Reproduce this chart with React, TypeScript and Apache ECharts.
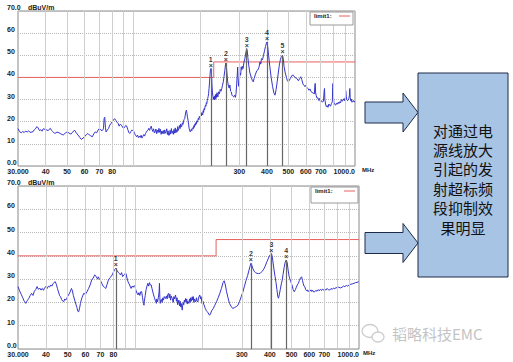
import React, { useEffect, useRef } from "react";
import * as echarts from "echarts";

// ---------- data ----------
// Top chart trace: [MHz, dBuV/m]
const topTrace: [number, number][] = [
  [30, 16.9], [30.5, 15.5], [31, 15.0], [31.5, 15.6], [32, 15.1], [32.5, 15.8], [33, 15.3], [33.5, 15.9], [34, 15.2], [35, 15.4],
  [35.5, 16.3], [36, 16.8], [36.5, 17.8], [37, 17.2], [37.5, 16.0], [38, 16.4], [38.5, 15.7], [39, 16.8], [40, 16.5], [41, 16.0],
  [42, 17.0], [42.5, 16.1], [43, 15.6], [44, 14.7], [45, 15.3], [46, 15.0], [47, 14.4], [48, 14.0], [49, 14.8], [50, 15.4],
  [51, 14.9], [52, 14.4], [53, 15.3], [54, 16.2], [55, 15.0], [56, 14.0], [57, 13.0], [58, 12.0], [59, 12.6], [60, 13.2],
  [61, 14.1], [62, 14.7], [63, 14.0], [64, 13.6], [65, 13.2], [66, 14.5], [67, 15.4], [68, 15.0], [69, 16.2], [70, 17.0],
  [71, 16.3], [72, 15.9], [73, 16.8], [73.5, 21.5], [74, 22.0], [74.5, 17.5], [75, 15.4], [76, 16.3], [77, 17.0], [78, 18.5],
  [79, 19.2], [80, 20.0], [81, 20.8], [82, 21.4], [83, 20.6], [84, 19.8], [85, 19.2], [86, 18.0], [87, 18.9], [88, 18.4],
  [89, 17.6], [90, 16.9], [91, 17.5], [92, 18.3], [93, 18.0], [94, 16.5], [95, 15.2], [96, 14.7], [97, 15.5], [98, 16.2],
  [99, 16.0], [100, 15.7], [101, 14.6], [102, 13.8], [103, 13.2], [104, 14.0], [105, 12.8], [106, 13.5], [107, 12.9], [108, 13.9],
  [109, 12.6], [110, 13.4], [111, 14.2], [112, 13.5], [113, 14.6], [114, 15.3], [115, 15.9], [116, 16.2], [117, 17.0], [118, 16.1],
  [119, 17.3], [120, 18.0], [121, 16.5], [122, 15.6], [123, 16.8], [124, 14.9], [125, 15.4], [126, 16.7], [127, 14.6], [128, 16.2],
  [129, 15.1], [130, 17.0], [131, 15.2], [132, 16.6], [133, 14.3], [134, 15.8], [135, 14.7], [136, 16.0], [137, 14.5], [138, 16.3],
  [139, 14.8], [140, 15.4], [141, 16.8], [142, 14.2], [143, 15.9], [144, 13.8], [145, 14.0], [146, 16.1], [147, 14.4], [148, 16.9],
  [149, 15.0], [150, 15.7], [151, 14.3], [152, 16.5], [153, 14.8], [154, 17.2], [155, 15.0], [156, 16.4], [157, 15.3], [158, 17.8],
  [159, 16.0], [160, 17.0], [161, 18.3], [162, 16.9], [163, 19.0], [164, 17.6], [165, 18.0], [166, 19.5], [167, 18.8], [168, 20.3],
  [169, 21.0], [170, 21.4], [171, 23.0], [172, 24.5], [173, 25.2], [174, 23.8], [175, 22.0], [176, 20.7], [177, 18.9], [178, 17.0],
  [179, 16.2], [180, 15.4], [181, 15.8], [182, 16.5], [183, 15.9], [184, 17.2], [185, 17.0], [186, 16.8], [187, 18.2], [188, 17.5],
  [189, 19.0], [190, 18.4], [191, 19.6], [192, 18.9], [193, 20.4], [194, 19.8], [195, 20.7], [196, 21.6], [197, 20.9], [198, 22.4],
  [199, 21.7], [200, 22.2], [201, 23.5], [202, 22.6], [203, 24.1], [204, 23.4], [205, 23.0], [206, 25.0], [207, 24.2], [208, 25.9],
  [209, 25.3], [210, 26.7], [211, 27.5], [212, 27.0], [213, 28.6], [214, 28.2], [215, 29.7], [216, 30.5], [217, 31.4], [218, 32.6],
  [219, 35.0], [220, 37.5], [221, 40.5], [222, 43.0], [223, 44.0], [224, 43.2], [225, 40.0], [226, 35.7], [227, 33.0], [228, 31.5],
  [229, 30.2], [230, 31.2], [231, 29.8], [232, 31.6], [233, 30.0], [234, 32.2], [235, 30.4], [236, 32.5], [237, 31.0], [238, 33.1],
  [240, 31.2], [242, 33.5], [244, 32.6], [246, 34.6], [248, 33.8], [250, 35.0], [252, 36.5], [254, 38.0], [256, 40.5], [258, 43.0],
  [260, 46.0], [261, 46.5], [262, 45.3], [264, 41.5], [266, 38.0], [268, 36.0], [270, 35.2], [272, 36.6], [274, 33.8], [276, 33.5],
  [278, 32.0], [280, 31.6], [283, 31.2], [286, 32.0], [288, 31.0], [290, 32.7], [292, 37.0], [294, 42.0], [295, 44.7], [296, 40.0],
  [298, 36.0], [300, 38.7], [302, 42.0], [304, 41.0], [305, 42.5], [306, 44.8], [308, 43.5], [310, 45.0], [312, 44.0], [315, 47.0],
  [318, 48.6], [321, 51.0], [324, 53.0], [326, 52.0], [328, 49.0], [331, 45.5], [335, 42.0], [340, 40.0], [344, 38.5], [347, 38.0],
  [350, 39.5], [355, 41.5], [360, 43.0], [364, 43.4], [368, 44.5], [372, 47.0], [375, 46.0], [378, 48.5], [382, 48.0], [386, 50.0],
  [390, 52.0], [394, 54.0], [398, 55.5], [400, 56.0], [403, 54.0], [407, 50.0], [412, 45.0], [418, 40.0], [424, 36.0], [430, 33.0],
  [435, 32.0], [440, 34.5], [445, 38.0], [450, 42.0], [455, 45.5], [460, 48.0], [465, 49.5], [470, 50.0], [474, 48.5], [478, 45.0],
  [484, 42.0], [490, 40.0], [495, 38.5], [500, 38.0], [510, 39.5], [520, 41.0], [526, 41.0], [535, 40.0], [545, 39.6], [555, 38.5],
  [562, 39.5], [569, 40.3], [575, 39.0], [582, 37.0], [588, 36.5], [594, 35.8], [600, 36.5], [606, 35.5], [613, 35.0], [620, 34.2],
  [626, 34.8], [633, 33.6], [640, 33.2], [648, 33.0], [655, 32.5], [659, 36.5], [661, 37.3], [664, 33.0], [668, 31.8], [674, 30.6],
  [680, 30.8], [686, 29.6], [692, 30.5], [698, 29.0], [705, 29.5], [712, 28.8], [720, 29.3], [725, 33.5], [728, 35.0], [731, 30.0],
  [736, 28.0], [742, 26.8], [748, 27.3], [755, 26.5], [762, 28.0], [768, 27.5], [775, 27.0], [782, 28.2], [790, 29.0], [793, 35.5],
  [795, 37.3], [798, 32.0], [803, 28.5], [810, 27.8], [818, 27.5], [825, 28.4], [832, 27.9], [840, 28.8], [846, 28.2], [853, 29.0],
  [860, 28.5], [868, 30.0], [876, 29.2], [884, 29.8], [892, 30.4], [898, 29.5], [905, 31.0], [908, 34.0], [910, 34.3], [913, 31.5],
  [918, 30.0], [925, 29.5], [932, 29.8], [938, 30.5], [944, 32.0], [946, 34.5], [948, 35.0], [951, 31.0], [956, 29.5], [962, 30.2],
  [968, 28.8], [975, 29.0], [982, 29.6], [990, 28.9], [1000, 29.2],
];

// Bottom chart trace: [MHz, dBuV/m]
const bottomTrace: [number, number][] = [
  [30, 26.8], [30.5, 25.0], [31, 23.5], [31.5, 22.0], [32, 20.5], [32.5, 19.6], [33, 20.8], [33.5, 21.7], [34, 22.9], [34.5, 23.9],
  [35, 23.0], [35.5, 24.8], [36, 25.5], [36.5, 26.8], [37, 25.6], [37.5, 26.2], [38, 25.3], [38.5, 26.0], [39, 25.2], [39.5, 26.4],
  [40, 26.8], [40.5, 26.0], [41, 27.0], [41.5, 26.6], [42, 27.5], [42.5, 27.0], [43, 28.0], [43.5, 28.6], [44, 28.9], [44.5, 27.8],
  [45, 26.0], [45.5, 24.5], [46, 23.0], [46.5, 22.4], [47, 21.2], [47.5, 20.6], [48, 20.3], [48.5, 21.5], [49, 21.0], [49.5, 21.7],
  [50, 22.6], [51, 24.0], [52, 26.0], [52.5, 25.0], [53, 23.0], [54, 20.3], [54.5, 19.0], [55, 17.8], [55.5, 16.2], [56, 16.0],
  [56.5, 17.5], [57, 19.5], [57.5, 21.0], [58, 22.2], [59, 23.9], [60, 23.5], [61, 24.6], [62, 26.0], [63, 27.5], [64, 29.6],
  [65, 30.5], [66, 31.8], [67, 31.2], [68, 30.0], [68.5, 31.0], [69, 30.4], [70, 29.5], [71, 28.2], [72, 27.0], [73, 26.5],
  [74, 26.0], [75, 27.8], [76, 29.6], [77, 30.5], [78, 31.0], [79, 31.8], [80, 33.0], [81, 34.0], [82, 34.7], [83, 33.8],
  [84, 33.0], [85, 32.5], [86, 31.8], [87, 32.8], [88, 31.1], [89, 31.8], [90, 32.2], [91, 32.5], [92, 30.5], [93, 28.9],
  [94, 28.0], [95, 27.0], [96, 26.0], [97, 27.0], [98, 26.5], [99, 27.2], [100, 26.8], [101, 25.0], [102, 24.0], [103, 23.2],
  [104, 24.2], [105, 23.0], [106, 24.6], [107, 24.6], [108, 22.0], [109, 19.5], [109.6, 18.8], [110, 20.5], [111, 23.0], [112, 25.5],
  [113, 27.0], [114, 28.2], [115, 27.0], [116, 28.5], [117, 27.5], [118, 27.5], [119, 26.0], [120, 24.5], [121, 23.2], [122, 22.0],
  [123, 21.0], [124, 20.0], [124.5, 19.6], [125, 21.5], [126, 20.2], [127, 22.0], [128, 24.5], [128.5, 28.2], [129, 22.0], [129.5, 19.6],
  [130, 20.5], [131, 21.3], [132, 20.0], [133, 22.0], [134, 21.0], [135, 22.5], [136.7, 21.7], [138, 22.8], [139, 21.5], [140, 23.5],
  [141.3, 23.9], [142, 22.0], [143, 23.6], [144, 21.0], [145, 22.8], [146.5, 21.7], [148, 20.0], [149, 22.5], [150, 21.5], [151.6, 23.2],
  [153, 20.5], [154, 22.0], [155, 19.0], [156.9, 21.0], [158, 18.5], [159, 20.5], [160, 18.0], [161, 19.5], [162.4, 16.7], [163, 18.5],
  [164, 20.0], [165, 19.0], [166, 21.0], [167, 20.2], [168, 21.7], [169, 20.0], [170, 21.5], [171, 19.3], [172, 20.5], [173.9, 19.6],
  [175, 21.5], [176, 20.0], [177, 22.0], [178, 20.5], [180, 22.4], [181, 21.0], [182, 22.5], [183, 20.0], [184, 21.5], [186.2, 20.3],
  [188, 22.0], [189, 20.5], [191, 20.3], [192, 22.0], [194.5, 23.2], [196, 21.5], [197, 22.5], [199, 19.6], [201, 20.5], [203, 19.0],
  [205.9, 17.4], [208, 16.5], [210, 16.0], [212, 15.5], [215, 14.5], [217, 15.0], [220, 16.5], [223.5, 17.4], [227, 18.8], [231, 20.3],
  [235, 22.0], [239, 23.9], [243, 26.0], [247, 28.5], [250, 29.3], [253, 27.5], [256, 24.8], [260, 22.0], [264, 19.6], [268, 18.4],
  [273, 17.4], [278, 17.8], [283, 18.2], [288, 18.8], [293, 20.5], [298, 22.5], [303, 24.5], [308, 27.0], [313, 29.5], [318, 31.5],
  [322, 33.5], [326, 35.5], [329, 36.8], [332, 36.0], [336, 34.5], [340, 33.4], [345, 32.8], [350, 32.5], [356, 32.4], [362, 32.5],
  [368, 33.2], [374, 34.0], [380, 35.3], [388, 37.5], [396, 39.5], [402, 40.6], [406, 41.0], [410, 39.5], [414, 36.5], [418, 33.5],
  [422, 31.0], [426, 28.5], [430, 25.5], [434, 22.5], [437, 21.8], [441, 23.5], [445, 25.5], [450, 28.0], [454, 29.6], [458, 32.0],
  [463, 35.0], [468, 37.2], [473, 38.2], [478, 37.0], [483, 33.5], [488, 31.0], [492, 29.8], [496, 28.9], [502, 27.5], [508, 25.5],
  [514, 24.6], [520, 25.5], [525, 26.5], [530, 27.5], [536, 28.2], [542, 29.5], [548, 30.5], [554, 31.0], [559, 29.5], [564, 28.0],
  [568, 27.0], [573, 26.7], [578, 25.5], [583, 25.0], [588, 25.4], [593, 24.6], [598, 25.2], [604, 24.8], [610, 25.4], [615, 24.7],
  [620, 25.3], [627, 24.5], [635, 24.6], [642, 25.2], [650, 24.8], [658, 25.5], [665, 25.0], [672, 25.6], [680, 25.1], [688, 25.8],
  [695, 25.2], [703, 25.7], [712, 25.3], [720, 26.0], [730, 25.4], [740, 25.3], [750, 26.0], [760, 25.6], [770, 26.2], [780, 25.8],
  [790, 26.5], [800, 26.0], [812, 26.6], [824, 26.2], [840, 26.5], [852, 27.0], [865, 26.8], [878, 27.3], [890, 27.0], [905, 27.6],
  [920, 27.8], [935, 28.0], [950, 28.2], [965, 28.5], [980, 28.6], [997, 28.9], [1000, 29.0],
];

// Limit line (step) shared by both charts
const limitFreq = [30, 230, 230, 1000];
const limitLevel = [40, 40, 47, 47];

// Peak markers
const topMarkerFreq = [223, 261, 324, 400, 470];
const topMarkerLevel = [44.0, 46.5, 53.0, 56.0, 50.0];
const bottomMarkerFreq = [82, 329, 406, 473];
const bottomMarkerLevel = [34.7, 36.8, 41.0, 38.2];

// Axes
const xGridFreq = [40, 50, 60, 70, 80, 90, 100, 200, 300, 400, 500, 600, 700, 800, 900];
const xTickFreq = [30, 40, 50, 60, 70, 80, 300, 400, 500, 600, 700, 1000];
const xTickText = ["30.000", "40", "50", "60", "70", "80", "300", "400", "500", "600", "700", "1000.0"];
const yMin = 0;
const yMax = 70;
const yStep = 10;

const boxLines = ["对通过电", "源线放大", "引起的发", "射超标频", "段抑制效", "果明显"];
const watermark = "韬略科技EMC";
const unitY = "dBuV/m";
const unitX = "MHz";
const legendName = "limit1:";

// ---------- component ----------
const FONT = "Liberation Sans, Arial, sans-serif";
const MARK_COLOR = "#666666";

function buildAxisMarkLine() {
  const grid = xGridFreq.map((f) => ({
    xAxis: f,
    lineStyle: { color: "#cfcfcf", width: 1, type: "solid" as const },
    label: { show: false },
  }));
  const ticks = xTickFreq.map((f, i) => ({
    xAxis: f,
    lineStyle: { color: "rgba(0,0,0,0)", width: 0 },
    label: {
      show: true,
      position: "start" as const,
      formatter: xTickText[i],
      distance: 2,
      fontSize: 7,
      fontWeight: "bold" as const,
      fontFamily: FONT,
      color: "#222",
      align: i === xTickFreq.length - 1 ? ("right" as const) : ("center" as const),
    },
  }));
  return {
    silent: true,
    symbol: ["none", "none"],
    animation: false,
    data: [...grid, ...ticks],
  };
}

function buildPeakMarkLine(freqs: number[], levels: number[]) {
  return {
    silent: true,
    symbol: ["none", "none"],
    animation: false,
    label: { show: false },
    lineStyle: { color: MARK_COLOR, width: 1.2, type: "solid" as const },
    data: freqs.map((f, i) => [{ coord: [f, yMin] }, { coord: [f, levels[i]] }]),
  };
}

export default function App() {
  const ref = useRef<HTMLDivElement>(null);

  useEffect(() => {
    if (!ref.current) return;
    const chart = echarts.init(ref.current, undefined, { renderer: "svg" });

    const grids = [
      { left: 18, top: 11, width: 337, height: 155 },
      { left: 18, top: 186, width: 341, height: 163 },
    ];

    const xAxes = grids.map((_, gi) => ({
      type: "log" as const,
      logBase: 10,
      min: 30,
      max: 1000,
      gridIndex: gi,
      axisLine: { show: false },
      axisTick: { show: false },
      axisLabel: { show: false },
      splitLine: { show: false },
    }));

    const yAxes = grids.map((_, gi) => ({
      type: "value" as const,
      min: yMin,
      max: yMax,
      interval: yStep,
      gridIndex: gi,
      axisLine: { show: false },
      axisTick: { show: false },
      axisLabel: {
        align: "left" as const,
        margin: 11,
        verticalAlign: "bottom" as const,
        fontSize: 7,
        fontWeight: "bold" as const,
        fontFamily: FONT,
        color: "#222",
        formatter: (v: number) => (v === yMin || v === yMax ? v.toFixed(1) : String(v)),
      },
      splitLine: { show: true, lineStyle: { color: "#b8b8b8", type: "dotted" as const, width: 1 } },
    }));

    const limitData = limitFreq.map((f, i) => [f, limitLevel[i]]);

    const series: any[] = [];
    const markerSets = [
      [topMarkerFreq, topMarkerLevel],
      [bottomMarkerFreq, bottomMarkerLevel],
    ];
    [topTrace, bottomTrace].forEach((trace, gi) => {
      const [mf, ml] = markerSets[gi];
      series.push({
        type: "line",
        xAxisIndex: gi,
        yAxisIndex: gi,
        data: limitData,
        showSymbol: false,
        color: "#E8605E",
        lineStyle: { color: "#E8605E", width: 1 },
        z: 2,
        markLine: buildAxisMarkLine(),
      });
      series.push({
        type: "line",
        xAxisIndex: gi,
        yAxisIndex: gi,
        data: trace,
        showSymbol: false,
        color: "#3535CC",
        lineStyle: { color: "#3535CC", width: 1 },
        z: 4,
        markLine: buildPeakMarkLine(mf, ml),
      });
      series.push({
        type: "scatter",
        xAxisIndex: gi,
        yAxisIndex: gi,
        data: mf.map((f, i) => [f, ml[i]]),
        symbol: "circle",
        symbolSize: 1,
        color: "#111111",
        itemStyle: { color: "rgba(0,0,0,0)" },
        silent: true,
        z: 6,
        label: {
          show: true,
          position: "top",
          distance: 0,
          fontSize: 7,
          fontWeight: "bold",
          lineHeight: 6,
          fontFamily: FONT,
          color: "#000000",
          formatter: (p: any) => `${p.dataIndex + 1}\n×`,
        },
      });
    });

    const txtSmall = { fontSize: 7, fontWeight: "bold", fontFamily: FONT, fill: "#222" };
    const boxFill = "#A8C4E4";
    const boxStroke = "#1E2A48";

    const legendBox = (x: number, y: number, w: number, h: number) => [
      { type: "rect", shape: { x, y, width: w, height: h }, style: { fill: "#fff", stroke: "#9a9a9a", lineWidth: 1 }, z: 10 },
      { type: "text", x: x + 4, y: y + 4, style: { ...txtSmall, fontSize: 6, text: legendName, verticalAlign: "middle" }, z: 11 },
      { type: "line", shape: { x1: x + w - 14, y1: y + 4, x2: x + w - 3, y2: y + 4 }, style: { stroke: "#E8605E", lineWidth: 1 }, z: 11 },
    ];

    const arrow = (cy: number) => ({
      type: "polygon",
      shape: {
        points: [
          [365, cy - 10.5], [403, cy - 10.5], [403, cy - 19.5], [418, cy],
          [403, cy + 19.5], [403, cy + 10.5], [365, cy + 10.5],
        ],
      },
      style: { fill: boxFill, stroke: boxStroke, lineWidth: 1 },
      z: 10,
    });

    const boxTexts = boxLines.map((line, i) => ({
      type: "text",
      x: 463,
      y: 130 + i * 19.4,
      style: {
        text: line,
        fontSize: 15,
        align: "center",
        verticalAlign: "middle",
        fontFamily: "Noto Sans CJK SC",
        fill: "#111",
      },
      z: 12,
    }));

    chart.setOption({
      animation: false,
      backgroundColor: "#fff",
      grid: grids.map((g) => ({ ...g, show: true, borderColor: "#8a8a8a", borderWidth: 1, backgroundColor: "transparent" })),
      xAxis: xAxes,
      yAxis: yAxes,
      series,
      graphic: [
        { type: "text", x: 28, y: 7, style: { ...txtSmall, text: unitY, verticalAlign: "middle" } },
        { type: "text", x: 28, y: 182, style: { ...txtSmall, text: unitY, verticalAlign: "middle" } },
        { type: "text", x: 362, y: 170, style: { ...txtSmall, fontSize: 6, text: unitX, verticalAlign: "middle" } },
        { type: "text", x: 363, y: 353, style: { ...txtSmall, fontSize: 6, text: unitX, verticalAlign: "middle" } },
        ...legendBox(310, 12, 43, 13),
        ...legendBox(311, 187, 47, 16),
        arrow(112.5),
        arrow(243),
        {
          type: "rect",
          shape: { x: 418, y: 73, width: 90, height: 204 },
          style: { fill: boxFill, stroke: boxStroke, lineWidth: 1 },
          z: 11,
        },
        ...boxTexts,
        { type: "ellipse", shape: { cx: 370, cy: 331, rx: 8, ry: 6.5 }, style: { fill: "#fff", stroke: "#cdcdcd", lineWidth: 1.3 }, z: 10 },
        { type: "ellipse", shape: { cx: 378, cy: 337, rx: 6, ry: 5 }, style: { fill: "#fff", stroke: "#cdcdcd", lineWidth: 1.3 }, z: 11 },
        {
          type: "text",
          x: 392,
          y: 333,
          style: { text: watermark, fontSize: 15, fontFamily: "Noto Sans CJK SC", fill: "#c4c4c4", verticalAlign: "middle" },
          z: 10,
        },
      ],
    });

    return () => chart.dispose();
  }, []);

  return (
    <div
      ref={ref}
      style={{ position: "fixed", left: 0, top: 0, width: 513, height: 362, background: "#fff" }}
    />
  );
}
